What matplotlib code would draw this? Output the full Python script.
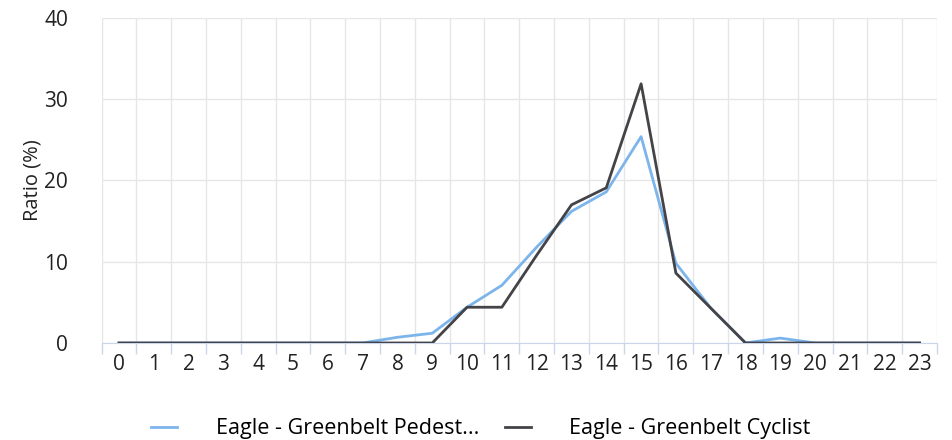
import numpy as np
import matplotlib.pyplot as plt

plt.rcParams['font.family'] = ['Open Sans', 'DejaVu Sans']

hours = list(range(24))
pedestrian = [0, 0, 0, 0, 0, 0, 0, 0, 0.7, 1.2, 4.4, 7.1, 11.8, 16.2, 18.6, 25.4,
              9.8, 4.3, 0, 0.6, 0, 0, 0, 0]
cyclist = [0, 0, 0, 0, 0, 0, 0, 0, 0, 0, 4.4, 4.4, 10.8, 17.0, 19.1, 31.9,
           8.6, 4.3, 0, 0, 0, 0, 0, 0]

fig = plt.figure(figsize=(9.52, 4.40), dpi=100)
ax = fig.add_axes([0.1067, 0.2205, 0.8775, 0.7386])

ax.plot(hours, pedestrian, color='#7cb5ec', lw=2, label='Eagle - Greenbelt Pedest...', zorder=3)
ax.plot(hours, cyclist, color='#434348', lw=2, label='Eagle - Greenbelt Cyclist', zorder=4)

ax.set_xlim(-0.5, 23.5)
ax.set_ylim(0, 40)
ax.set_yticks([0, 10, 20, 30, 40])
ax.set_xticks(hours)
ax.set_xticks(np.arange(-0.5, 24, 1), minor=True)
ax.tick_params(axis='x', which='major', length=0, pad=8, labelsize=15, colors='#222222')
ax.tick_params(axis='x', which='minor', length=8, color='#ccd6eb', width=1)
ax.tick_params(axis='y', length=0, pad=24, labelsize=15, colors='#222222')

ax.grid(axis='y', color='#e6e6e6', lw=1)
ax.grid(axis='x', which='minor', color='#e6e6e6', lw=1)
ax.set_axisbelow(True)

for s in ['top', 'right', 'left']:
    ax.spines[s].set_visible(False)
ax.spines['bottom'].set_color('#ccd6eb')

ax.set_ylabel('Ratio (%)', fontsize=14.5, color='#222222', labelpad=1)

fig.legend(loc='lower center', bbox_to_anchor=(0.505, -0.042), ncol=2, frameon=False,
           fontsize=15.5, handlelength=1.2, handletextpad=1.8, columnspacing=1.2)

fig.savefig('out.png', dpi=100)
